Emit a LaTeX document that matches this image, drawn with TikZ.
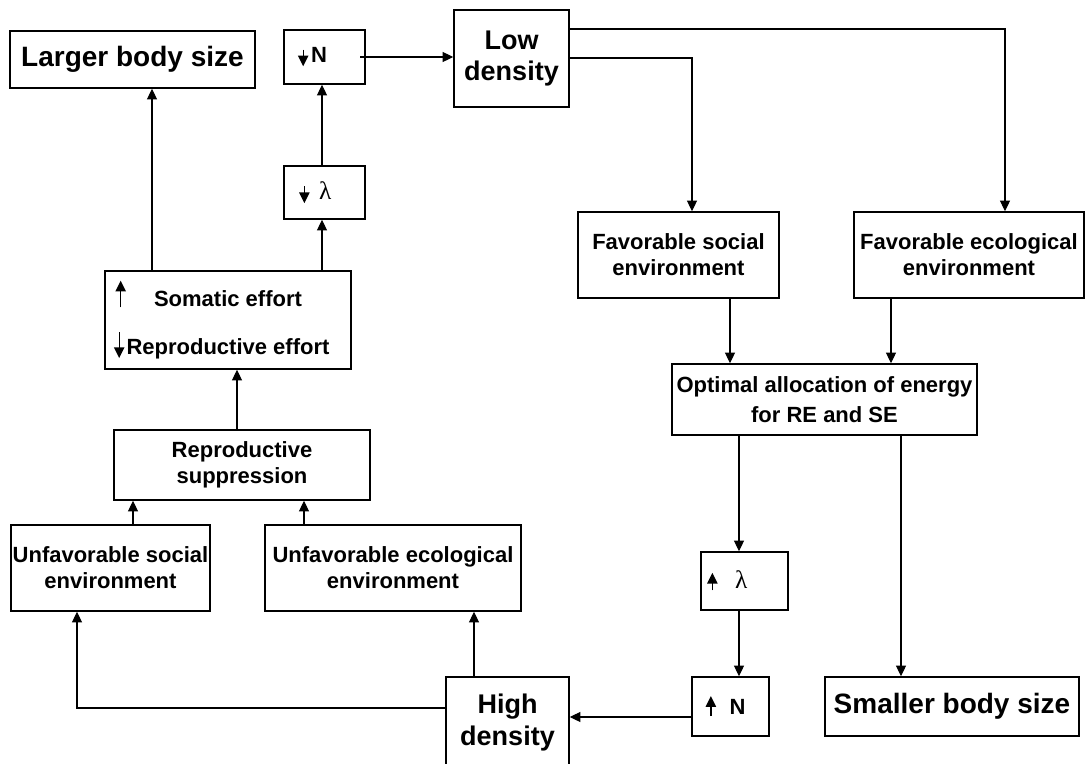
\documentclass[tikz,border=0pt]{standalone}
\usepackage{fontspec}
\setmainfont{Liberation Sans}
\newfontfamily\lamfont{Liberation Serif}
\usetikzlibrary{arrows.meta}

% small arrows inside the box texts
\newcommand{\uparr}[1]{\tikz[baseline=0pt]{%
    \draw[line width=1pt] (0pt,-1pt) -- (0pt,#1pt-5pt);
    \fill (-4pt,#1pt-8pt) -- (4pt,#1pt-8pt) -- (0pt,#1pt) -- cycle;}}
\newcommand{\dnarr}[1]{\tikz[baseline=0pt]{%
    \draw[line width=1pt] (0pt,#1pt) -- (0pt,2pt);
    \fill (-4pt,5.5pt) -- (4pt,5.5pt) -- (0pt,-2.5pt) -- cycle;}}
\newcommand{\lam}{{\lamfont\mdseries\fontsize{19}{20}\selectfont λ}}

\begin{document}
\begin{tikzpicture}[x=0.75pt,y=-0.75pt,
    box/.style={draw,line width=1.1pt,inner sep=1pt,align=center,
        font=\bfseries\fontsize{16.5}{19.5}\selectfont},
    sizebox/.style={box,font=\bfseries\fontsize{21}{25}\selectfont},
    densbox/.style={box,font=\bfseries\fontsize{20.25}{23.5}\selectfont},
    conn/.style={line width=0.8pt,-{Triangle[length=8pt,width=7.5pt]}}]
\useasboundingbox (0,0) rectangle (1086,764);

% columns and rows of the connectors
\foreach \n/\x/\y in {tBody/152/0, tLam/322/0, tFav/692/58, tEco/1005/29,
    tSoc/730/0, tEnv/891/0, tRate/739/0, tSmall/901/0, tHigh/0/717,
    tUsoc/77/708, tUeco/474/0, tSup/133/0, tSup2/304/0, tEff/237/0} {
    \coordinate (\n) at (\x,\y);
}

% left branch
\node[sizebox,minimum width=183.75pt,minimum height=42.75pt] (LBS) at (132.5,59.5) {Larger body size};
\node[box,minimum width=60.75pt,minimum height=40.5pt] (DN) at (324.5,57)
    {\dnarr{10}\hspace{2pt}N\hspace*{18pt}};
\node[box,minimum width=60.75pt,minimum height=39.75pt] (DL) at (324.5,192.5)
    {\dnarr{10}\hspace{7pt}\lam\hspace*{14pt}};
\node[box,minimum width=184.5pt,minimum height=73.5pt] (SR) at (228,320)
    {\llap{\uparr{19}\hspace{21pt}}Somatic effort\\[17pt]\llap{\dnarr{17}\hspace{1.5pt}}Reproductive effort};
\node[box,minimum width=192pt,minimum height=52.5pt] (RS) at (242,465) {Reproductive\\suppression};
\node[box,minimum width=149.25pt,minimum height=64.5pt] (US) at (110.5,568) {Unfavorable social\\environment};
\node[box,minimum width=192pt,minimum height=64.5pt] (UE) at (393,568) {Unfavorable ecological\\environment};
\node[densbox,minimum width=92.25pt,minimum height=68.25pt] (HD) at (507.5,722.5) {High\\density};

% right branch
\node[densbox,minimum width=86.25pt,minimum height=72.75pt] (LD) at (511.5,58.5) {Low\\density};
\node[box,minimum width=150.75pt,minimum height=64.5pt] (FS) at (678.5,255) {Favorable social\\environment};
\node[box,minimum width=172.5pt,minimum height=64.5pt] (FE) at (969,255) {Favorable ecological\\environment};
\node[box,minimum width=228.75pt,minimum height=53.25pt] (OA) at (824.5,399.5)
    {Optimal allocation of energy\\[3pt]for RE and SE};
\node[box,minimum width=65.25pt,minimum height=43.5pt] (UL) at (744.5,581)
    {\uparr{12}\hspace{13pt}\lam\hspace*{26pt}};
\node[box,minimum width=57.75pt,minimum height=44.25pt] (UN) at (730.5,706.5)
    {\uparr{14}\hspace{10pt}N\hspace*{7.5pt}};
\node[sizebox,minimum width=190.5pt,minimum height=44.25pt] (SBS) at (952,706.5) {Smaller body size};

% connectors
\draw[conn] (SR.north -| tBody) -- (LBS.south -| tBody);
\draw[conn] (SR.north -| tLam) -- (DL.south -| tLam);
\draw[conn] (DL.north -| tLam) -- (DN.south -| tLam);
\draw[conn] ([xshift=-4pt]DN.east) -- (DN.east -| LD.west);
\draw[conn] (LD.east |- tEco) -| (FE.north -| tEco);
\draw[conn] (LD.east |- tFav) -| (FS.north -| tFav);
\draw[conn] (FS.south -| tSoc) -- (OA.north -| tSoc);
\draw[conn] (FE.south -| tEnv) -- (OA.north -| tEnv);
\draw[conn] (OA.south -| tRate) -- (UL.north -| tRate);
\draw[conn] (UL.south -| tRate) -- (UN.north -| tRate);
\draw[conn] (OA.south -| tSmall) -- (SBS.north -| tSmall);
\draw[conn] (UN.west |- tHigh) -- (HD.east |- tHigh);
\draw[conn] (HD.west |- tUsoc) -| (US.south -| tUsoc);
\draw[conn] (HD.north -| tUeco) -- (UE.south -| tUeco);
\draw[conn] (US.north -| tSup) -- (RS.south -| tSup);
\draw[conn] (UE.north -| tSup2) -- (RS.south -| tSup2);
\draw[conn] (RS.north -| tEff) -- (SR.south -| tEff);
\end{tikzpicture}
\end{document}
